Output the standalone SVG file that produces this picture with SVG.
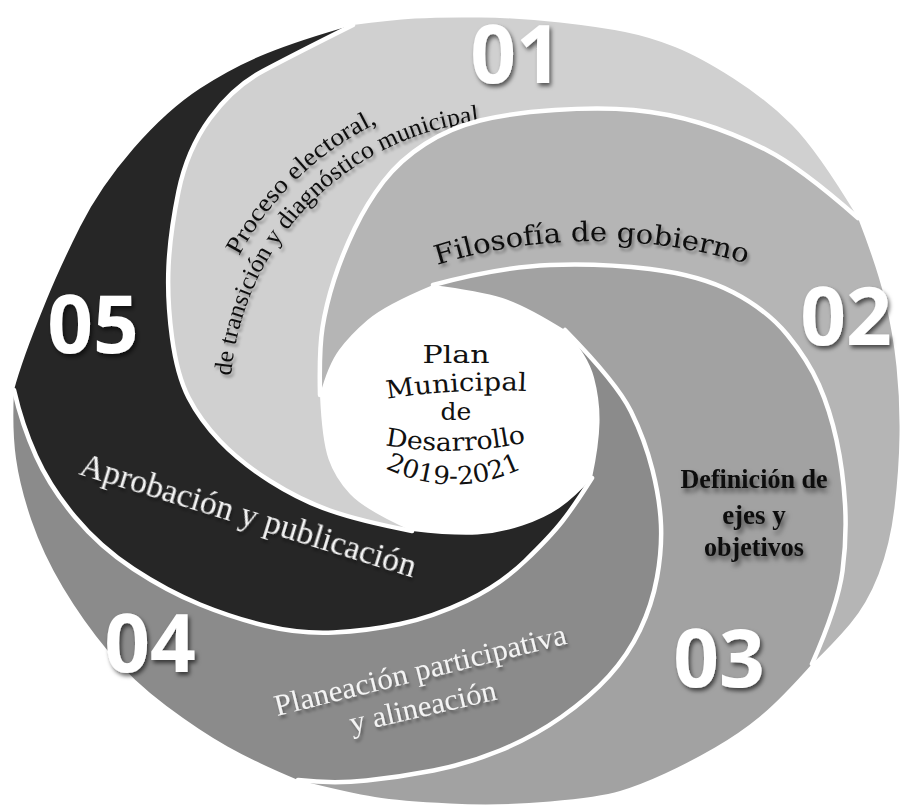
<svg xmlns="http://www.w3.org/2000/svg" width="901" height="809" viewBox="0 0 901 809">
<defs>
<style>
.a1{fill:#d0d0d0}.a2{fill:#b5b5b5}.a3{fill:#a2a2a2}.a4{fill:#8b8b8b}.a5{fill:#262626}
.div{fill:none;stroke:#ffffff;stroke-width:4.5;stroke-linecap:round;stroke-linejoin:round}
.num{font-family:"Open Sans","DejaVu Sans",sans-serif;font-weight:700;font-size:80px;fill:#ffffff;text-anchor:middle}
.ser{font-family:"Liberation Serif","Times New Roman",serif}
.slab{font-family:"DejaVu Serif","Liberation Serif",serif}
.blk{fill:#111111}
.wht{fill:#f4f4f4}
.ctr{font-family:"DejaVu Serif","Liberation Serif",serif;font-size:25px;fill:#111111}
</style>
<filter id="numShadow" x="-20%" y="-20%" width="150%" height="160%">
<feDropShadow dx="2" dy="3" stdDeviation="2" flood-color="#000000" flood-opacity="0.6"/>
</filter>
<filter id="txtShadow" x="-10%" y="-30%" width="130%" height="170%">
<feDropShadow dx="2" dy="3" stdDeviation="1.8" flood-color="#000000" flood-opacity="0.35"/>
</filter>
<filter id="boldShadow" x="-10%" y="-30%" width="130%" height="180%">
<feDropShadow dx="2" dy="4" stdDeviation="2.5" flood-color="#000000" flood-opacity="0.55"/>
</filter>
<path id="tp1" d="M239,256 A307,307 0 0,1 380,122"/>
<path id="tp2" d="M231,376 A280,280 0 0,1 486,121"/>
<path id="tp3" d="M437,265 A529,529 0 0,1 751,265"/>
<path id="tpMun" d="M387,399 Q457,388 527,391"/>
<path id="tpDes" d="M385,445 Q456,458 527,442"/>
<path id="tpYear" d="M385,468 Q456,502 527,466"/>
</defs>
<rect x="0" y="0" width="901" height="809" fill="#ffffff"/>

<g id="arm-01">
<path class="a1" d="M412,531 Q365,510 350,494 T328.5,459 T320,395 Q319,350 322.5,327.5 T334,280 T354.5,229 T383.5,181.5 T425,144 T480,120.5 T555,110 T633.5,110 T700,123 T766.5,150 T858,218 Q817,150 792,125 T733.5,78.5 T675,47 T625,32 T560,22.5 T480,17.5 T415,18.5 T353,25 Q293,55 263,71 T210,118.5 T178.5,191.5 T168.5,266.5 T172,337.5 T188.5,397.5 T220,441 T270,481 T330,510.5 T412,531 Z"/>
<text class="num" x="516" y="83" filter="url(#numShadow)">01</text>
<text class="ser blk" font-size="25" filter="url(#txtShadow)"><textPath href="#tp1" textLength="195" lengthAdjust="spacingAndGlyphs">Proceso electoral,</textPath></text>
<text class="ser blk" font-size="25" filter="url(#txtShadow)"><textPath href="#tp2" textLength="385" lengthAdjust="spacingAndGlyphs">de transición y diagnóstico municipal</textPath></text>
</g>

<g id="arm-02">
<path class="a2" d="M320,395 Q328,365 339,350 T367.5,320 T433,285 Q500,267 550,265 T650,269 T733.5,292.5 T787.5,335 T819,385 T836.5,440 T845,503.5 T842.5,571 T812,664 Q833,644 850,624 T878.5,574.5 T894.5,507.5 T899.5,435 T896.5,366.5 T885,300 T858,218 Q800,167 766.5,150 T700,123 T633.5,110 T555,110 T480,120.5 T425,144 T383.5,181.5 T354.5,229 T334,280 T322.5,327.5 T320,395 Z"/>
<text class="num" x="846" y="345" filter="url(#numShadow)">02</text>
<text class="slab blk" font-size="27" filter="url(#txtShadow)"><textPath href="#tp3" textLength="314" lengthAdjust="spacingAndGlyphs">Filosofía de gobierno</textPath></text>
</g>

<g id="arm-03">
<path class="a3" d="M433,285 Q480,291 502.5,298 T565,330 Q617,383 631,411.5 T652.5,470 T661,525 T657,577.5 T640,630 T609,676 T561.5,717 T500,750.5 T433.5,770.5 T366.5,780.5 T298,780 Q350,793 375,797 T450,803.5 T550,801.5 T620,791 T665,773.5 T715,747.5 T760,716.5 T812,664 Q838,605 842.5,571 T845,503.5 T836.5,440 T819,385 T787.5,335 T733.5,292.5 T650,269 T550,265 T433,285 Z"/>
<text class="num" x="719" y="687" filter="url(#numShadow)">03</text>
<g class="ser blk" font-weight="700" font-size="27" text-anchor="middle" filter="url(#boldShadow)">
<text x="754" y="488" textLength="147" lengthAdjust="spacingAndGlyphs">Definición de</text>
<text x="754" y="524">ejes y</text>
<text x="754" y="556" textLength="100" lengthAdjust="spacingAndGlyphs">objetivos</text>
</g>
</g>

<g id="arm-04">
<path class="a4" d="M565,330 Q588,355 594,377.5 T599.5,422.5 T592,478 Q575,505 562.5,521 T525,561 T466.5,601 T400,624 T333.5,632.5 T266.5,626 T200,604.5 T133.5,569 T75,517 T36,456 T14,390 Q12,430 16,458.5 T31.5,520.5 T63,587.5 T108,651 T166.5,706 T227.5,746.5 T298,780 Q333,784 366.5,780.5 T433.5,770.5 T500,750.5 T561.5,717 T609,676 T640,630 T657,577.5 T661,525 T652.5,470 T631,411.5 T565,330 Z"/>
<text class="num" x="150" y="672" filter="url(#numShadow)">04</text>
<g class="ser wht" font-size="30" filter="url(#txtShadow)">
<text transform="translate(277,716) rotate(-14)" textLength="300" lengthAdjust="spacingAndGlyphs">Planeación participativa</text>
<text transform="translate(352,733) rotate(-13)" textLength="150" lengthAdjust="spacingAndGlyphs">y alineación</text>
</g>
</g>

<g id="arm-05">
<path class="a5" d="M592,478 Q575,497 560,507.5 T522.5,525.5 T477.5,534.5 T412,531 Q360,521 330,510.5 T270,481 T220,441 T188.5,397.5 T172,337.5 T168.5,266.5 T178.5,191.5 T210,118.5 T263,71 T353,25 Q300,40 266.5,53.5 T200,88.5 T133.5,148.5 T80,227 T46.5,300 T25.5,354 T14,390 Q22,425 36,456 T75,517 T133.5,569 T200,604.5 T266.5,626 T333.5,632.5 T400,624 T466.5,601 T525,561 T562.5,521 T592,478 Z"/>
<text class="num" x="93" y="353" filter="url(#numShadow)">05</text>
<text class="ser wht" font-size="34" transform="translate(78,474) rotate(17.2)" textLength="350" lengthAdjust="spacingAndGlyphs" filter="url(#txtShadow)">Aprobación y publicación</text>
</g>

<g id="dividers">
<path class="div" d="M412,531 Q360,521 330,510.5 T270,481 T220,441 T188.5,397.5 T172,337.5 T168.5,266.5 T178.5,191.5 T210,118.5 T263,71 T353,25"/>
<path class="div" d="M320,395 Q319,350 322.5,327.5 T334,280 T354.5,229 T383.5,181.5 T425,144 T480,120.5 T555,110 T633.5,110 T700,123 T766.5,150 T858,218"/>
<path class="div" d="M433,285 Q500,267 550,265 T650,269 T733.5,292.5 T787.5,335 T819,385 T836.5,440 T845,503.5 T842.5,571 T812,664"/>
<path class="div" d="M565,330 Q617,383 631,411.5 T652.5,470 T661,525 T657,577.5 T640,630 T609,676 T561.5,717 T500,750.5 T433.5,770.5 T366.5,780.5 T298,780"/>
<path class="div" d="M592,478 Q575,505 562.5,521 T525,561 T466.5,601 T400,624 T333.5,632.5 T266.5,626 T200,604.5 T133.5,569 T75,517 T36,456 T14,390"/>
</g>

<g id="center">
<text class="ctr" x="456" y="363" text-anchor="middle" textLength="67" lengthAdjust="spacingAndGlyphs">Plan</text>
<text class="ctr"><textPath href="#tpMun" textLength="140" lengthAdjust="spacingAndGlyphs">Municipal</textPath></text>
<text class="ctr" x="456" y="420" text-anchor="middle">de</text>
<text class="ctr"><textPath href="#tpDes" textLength="142" lengthAdjust="spacingAndGlyphs">Desarrollo</textPath></text>
<text class="ctr"><textPath href="#tpYear" textLength="142" lengthAdjust="spacingAndGlyphs">2019-2021</textPath></text>
</g>
</svg>
